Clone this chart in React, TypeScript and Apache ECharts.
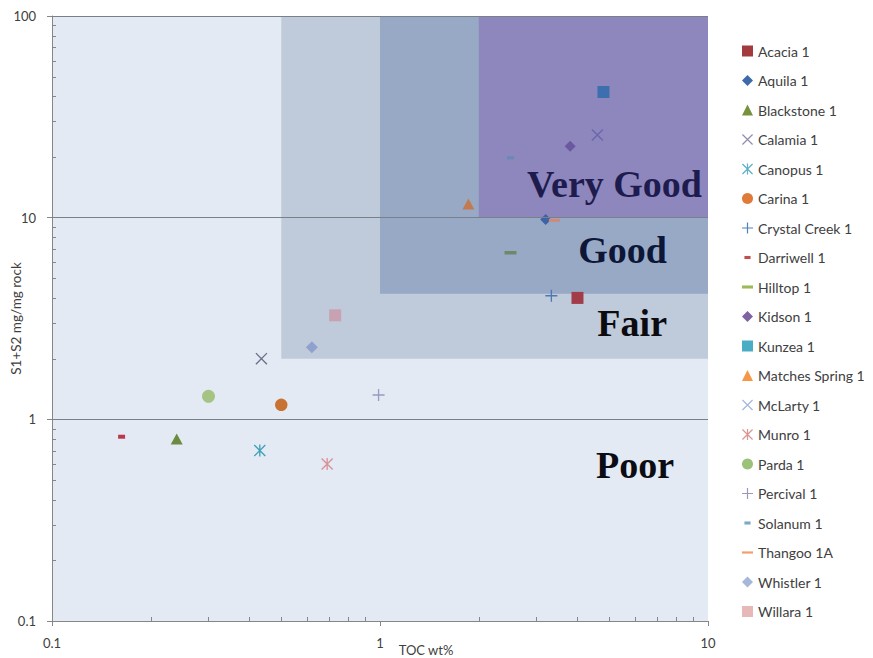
import React, { useEffect, useRef } from "react";
import * as echarts from "echarts";

// ---------- data ----------
const wellNames = [
  "Acacia 1",
  "Aquila 1",
  "Blackstone 1",
  "Calamia 1",
  "Canopus 1",
  "Carina 1",
  "Crystal Creek 1",
  "Darriwell 1",
  "Hilltop 1",
  "Kidson 1",
  "Kunzea 1",
  "Matches Spring 1",
  "McLarty 1",
  "Munro 1",
  "Parda 1",
  "Percival 1",
  "Solanum 1",
  "Thangoo 1A",
  "Whistler 1",
  "Willara 1",
];
const tocWt = [4.0, 3.2, 0.24, 0.435, 0.43, 0.5, 3.33, 0.163, 2.5, 3.8, 4.8, 1.86, 4.6, 0.69, 0.3, 0.99, 2.5, 3.4, 0.62, 0.73];
const s1s2 = [4.0, 9.8, 0.8, 2.0, 0.7, 1.18, 4.1, 0.82, 6.7, 22.6, 42, 11.7, 25.7, 0.6, 1.3, 1.32, 19.8, 9.7, 2.28, 3.28];

const regionNames = ["Fair", "Good", "Very Good"];
const regionMinToc = [0.5, 1, 2];
const regionMinS1S2 = [2, 4.2, 10];
const gridLineValues = [1, 10, 100];
const xMinorTicks = [0.2, 0.3, 0.4, 0.5, 0.6, 0.7, 0.8, 0.9, 2, 3, 4, 5, 6, 7, 8, 9];
const yMinorTicks = [0.2, 0.3, 0.4, 0.5, 0.6, 0.7, 0.8, 0.9, 2, 3, 4, 5, 6, 7, 8, 9, 20, 30, 40, 50, 60, 70, 80, 90];
const ratingLabels = ["Very Good", "Good", "Fair", "Poor"];

// ---------- styles ----------
const X_PATH = "path://M0,0.8L0.8,0L10,9.2L9.2,10Z M9.2,0L10,0.8L0.8,10L0,9.2Z";
const AST_PATH = "path://M0,0.8L0.8,0L10,9.2L9.2,10Z M9.2,0L10,0.8L0.8,10L0,9.2Z M4.45,0H5.55V10H4.45Z";
const PLUS_PATH = "path://M4.45,0H5.55V10H4.45Z M0,4.45H10V5.55H0Z";
const DASH_SHORT = "path://M0,0L0,0M10,10L10,10M2.2,3.6H7.8V6.4H2.2Z";
const DASH_LONG = "path://M0,0L0,0M10,10L10,10M0,3.6H10V6.4H0Z";
const DASH_THIN = "path://M0,0L0,0M10,10L10,10M0,4H10V6H0Z";

const wellStyles = [
  { symbol: "rect", size: 12, legend: "#a33b3d", plot: "#a23c48", icon: "rect" },
  { symbol: "diamond", size: 11, legend: "#3f6aaa", plot: "#3d62a6", icon: "diamond" },
  { symbol: "triangle", size: [12, 11], legend: "#76923c", plot: "#6b8c3e", icon: "triangle" },
  { symbol: X_PATH, size: 12, legend: "#8f8db0", plot: "#6e6e88", icon: X_PATH },
  { symbol: AST_PATH, size: 12, legend: "#5fb0c8", plot: "#40a0b8", icon: AST_PATH },
  { symbol: "circle", size: 12.5, legend: "#df7a38", plot: "#c87233", icon: "circle" },
  { symbol: PLUS_PATH, size: 12, legend: "#4f81bd", plot: "#5078b0", icon: PLUS_PATH },
  { symbol: "rect", size: [7, 4], legend: "#c0504d", plot: "#b83a4a", icon: DASH_SHORT },
  { symbol: "rect", size: [12, 3.5], legend: "#9bbb59", plot: "#6a8a6a", icon: DASH_LONG },
  { symbol: "diamond", size: 11, legend: "#8064a2", plot: "#6a58a0", icon: "diamond" },
  { symbol: "rect", size: 12, legend: "#4bacc6", plot: "#3d6fae", icon: "rect" },
  { symbol: "triangle", size: [12, 11], legend: "#f79646", plot: "#c27a4e", icon: "triangle" },
  { symbol: X_PATH, size: 12, legend: "#a5b8da", plot: "#6868ac", icon: X_PATH },
  { symbol: AST_PATH, size: 12, legend: "#d99694", plot: "#d8929a", icon: AST_PATH },
  { symbol: "circle", size: 13, legend: "#9bc17a", plot: "#a5c484", icon: "circle" },
  { symbol: PLUS_PATH, size: 12, legend: "#9c98b8", plot: "#9a9ac2", icon: PLUS_PATH },
  { symbol: "rect", size: [7, 3.3], legend: "#7aa8c8", plot: "#6a88b8", icon: DASH_SHORT },
  { symbol: "rect", size: [11, 3], legend: "#f0a070", plot: "#d08878", icon: DASH_THIN },
  { symbol: "diamond", size: 12, legend: "#a5b8da", plot: "#8fa2cf", icon: "diamond" },
  { symbol: "rect", size: 12, legend: "#e6b9b8", plot: "#c8a2b2", icon: "rect" },
];

const regionColors = ["#bfcadb", "#98a9c6", "#8e87bd"];
const ratingStyles = [
  { right: 702, y: 184, color: "#1e1c4e" },
  { right: 667, y: 250, color: "#0c1636" },
  { right: 667, y: 323, color: "#0c0c10" },
  { right: 674, y: 465, color: "#0c0c14" },
];

const AXIS = "#868686";
const TEXT = "#404040";
const FONT = "Lato";

export default function App() {
  const ref = useRef<HTMLDivElement>(null);

  useEffect(() => {
    if (!ref.current) return;
    const chart = echarts.init(ref.current, undefined, { renderer: "svg" });

    const wellSeries = wellNames.map((name, i) => {
      const st = wellStyles[i];
      return {
        name,
        type: "scatter",
        z: 3,
        symbol: st.symbol,
        symbolSize: st.size,
        itemStyle: { color: st.legend, opacity: 1 },
        data: [{ value: [tocWt[i], s1s2[i]], itemStyle: { color: st.plot } }],
      };
    });

    const option: any = {
      animation: false,
      backgroundColor: "#ffffff",
      grid: {
        left: 52,
        right: 165,
        top: 16,
        bottom: 37,
        containLabel: false,
        outerBoundsMode: "none",
        show: true,
        backgroundColor: "#e3eaf4",
        borderWidth: 0,
      },
      legend: {
        orient: "vertical",
        left: 737,
        top: 39,
        itemWidth: 11,
        itemHeight: 11,
        itemGap: 15.5,
        selectedMode: false,
        textStyle: { color: TEXT, fontFamily: FONT, fontSize: 14, lineHeight: 14 },
        data: wellNames.map((name, i) => ({ name, icon: wellStyles[i].icon })),
      },
      xAxis: {
        type: "log",
        logBase: 10,
        min: 0.1,
        max: 10,
        name: "TOC wt%",
        nameLocation: "middle",
        nameGap: 22,
        nameMoveOverlap: false,
        nameTextStyle: { color: TEXT, fontFamily: FONT, fontSize: 13, padding: [0, 0, 0, 92] },
        axisLine: { show: true, lineStyle: { color: AXIS, width: 1 } },
        axisTick: { show: true, inside: false, length: 5, lineStyle: { color: AXIS } },
        axisLabel: { color: TEXT, fontFamily: FONT, fontSize: 13, margin: 15 },
        splitLine: { show: false },
      },
      yAxis: {
        type: "log",
        logBase: 10,
        min: 0.1,
        max: 100,
        name: "S1+S2 mg/mg rock",
        nameLocation: "middle",
        nameRotate: 90,
        nameGap: 29,
        nameMoveOverlap: false,
        nameTextStyle: { color: TEXT, fontFamily: FONT, fontSize: 13.5 },
        axisLine: { show: true, lineStyle: { color: AXIS, width: 1 } },
        axisTick: { show: true, inside: false, length: 5, lineStyle: { color: AXIS } },
        axisLabel: { color: TEXT, fontFamily: FONT, fontSize: 13, margin: 16 },
        splitLine: { show: false },
      },
      graphic: ratingLabels.map((t, i) => ({
        type: "text",
        x: ratingStyles[i].right,
        y: ratingStyles[i].y,
        z: 100,
        silent: true,
        style: {
          text: t,
          fill: ratingStyles[i].color,
          font: 'bold 38px "Liberation Serif", "Times New Roman", serif',
          textAlign: "right",
          textVerticalAlign: "middle",
        },
      })),
      series: [
        {
          name: "regions",
          type: "scatter",
          z: 1,
          silent: true,
          data: [],
          markArea: {
            silent: true,
            label: { show: false },
            data: regionNames.map((r, i) => [
              { name: r, coord: [regionMinToc[i], regionMinS1S2[i]], itemStyle: { color: regionColors[i], opacity: 1 } },
              { coord: [10, 100] },
            ]),
          },
        },
        {
          name: "gridlines",
          type: "scatter",
          z: 2,
          silent: true,
          data: [],
          markLine: {
            silent: true,
            symbol: "none",
            label: { show: false },
            lineStyle: { color: "#79808a", width: 1, type: "solid" },
            data: gridLineValues.map((v) => ({ yAxis: v })),
          },
        },
        ...wellSeries,
        {
          name: "xMinor",
          type: "custom",
          z: 5,
          silent: true,
          clip: false,
          data: xMinorTicks.map((v) => [v, 0.1]),
          renderItem: (params: any, api: any) => {
            const p = api.coord([api.value(0), api.value(1)]);
            const x = Math.round(p[0]) + 0.5;
            return {
              type: "line",
              shape: { x1: x, y1: p[1], x2: x, y2: p[1] - 4 },
              style: { stroke: AXIS, lineWidth: 1 },
            };
          },
        },
        {
          name: "yMinor",
          type: "custom",
          z: 5,
          silent: true,
          clip: false,
          data: yMinorTicks.map((v) => [0.1, v]),
          renderItem: (params: any, api: any) => {
            const p = api.coord([api.value(0), api.value(1)]);
            const y = Math.round(p[1]) + 0.5;
            return {
              type: "line",
              shape: { x1: p[0], y1: y, x2: p[0] + 4, y2: y },
              style: { stroke: AXIS, lineWidth: 1 },
            };
          },
        },
      ],
    };

    chart.setOption(option);
    return () => chart.dispose();
  }, []);

  return (
    <div
      ref={ref}
      style={{ position: "fixed", left: 0, top: 0, width: 873, height: 658, background: "#fff" }}
    />
  );
}
